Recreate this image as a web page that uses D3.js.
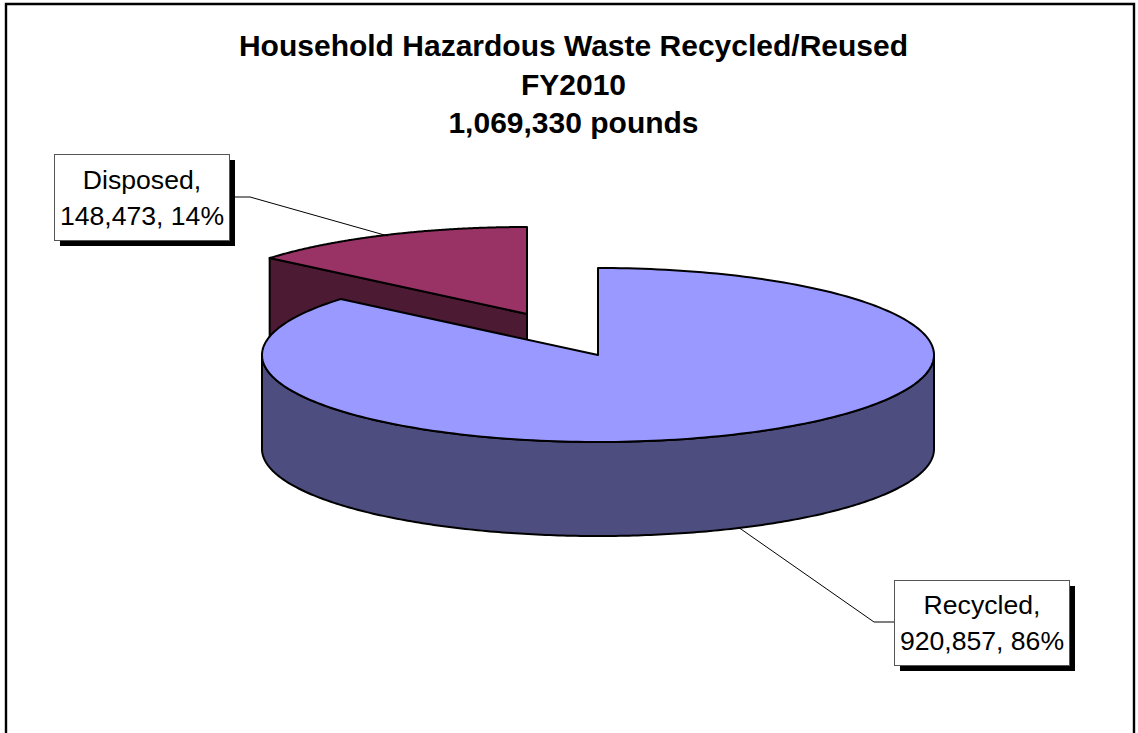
<!DOCTYPE html>
<html>
<head>
<meta charset="utf-8">
<style>html,body{margin:0;padding:0;background:#fff}svg{display:block}</style>
<script src="https://cdn.jsdelivr.net/npm/d3@7"></script>
</head>
<body>
<script>
const categories = ["Recycled", "Disposed"];
const values = [920857, 148473];
const percents = ["86%", "14%"];
const titleLines = ["Household Hazardous Waste Recycled/Reused", "FY2010", "1,069,330 pounds"];

const W = 1138, H = 733;
const topColors = ["#9999FF", "#993366"];
const sideColors = ["#4D4D80", "#4D1A33"];
const centers = [{x: 598, y: 355}, {x: 527, y: 314}];
const rx = 336, ry = 87, depth = 94;

const svg = d3.select("body").append("svg").attr("width", W).attr("height", H);
svg.append("rect").attr("width", W).attr("height", H).attr("fill", "#fff");
svg.append("path").attr("d", `M6,${H + 5}V4H1134V${H + 5}`)
  .attr("fill", "none").attr("stroke", "#000").attr("stroke-width", 2.4);

const font = "'Liberation Sans', Arial, sans-serif";
svg.append("g").selectAll("text").data(titleLines).join("text")
  .attr("x", 573.5).attr("y", (d, i) => 56 + i * 38.5)
  .attr("text-anchor", "middle").attr("font-family", font)
  .attr("font-weight", "bold").attr("font-size", 30).attr("fill", "#000")
  .text(d => d);

const arcs = d3.pie().sort(null).startAngle(0).endAngle(2 * Math.PI)(values);
const scalesFor = i => ({
  x: d3.scaleLinear().domain([-1, 1]).range([centers[i].x - rx, centers[i].x + rx]),
  y: d3.scaleLinear().domain([-1, 1]).range([centers[i].y + ry, centers[i].y - ry])
});
const rim = (i, a0, a1, dy = 0) => {
  const s = scalesFor(i), n = 240;
  return d3.range(n + 1).map(k => {
    const a = a0 + (a1 - a0) * k / n;
    return [s.x(Math.sin(a)), s.y(Math.cos(a)) + dy];
  });
};
const line = d3.line();
const pieStroke = g => g.attr("stroke", "#000").attr("stroke-width", 2).attr("stroke-linejoin", "round");

// Disposed slice: cut face first, then its top
{
  const a = arcs[1], c = centers[1], s = scalesFor(1);
  const p = [s.x(Math.sin(a.startAngle)), s.y(Math.cos(a.startAngle))];
  svg.append("path").attr("fill", sideColors[1]).call(pieStroke)
    .attr("d", line([p, [c.x, c.y], [c.x, c.y + depth], [p[0], p[1] + depth]]) + "Z");
  svg.append("path").attr("fill", topColors[1]).call(pieStroke)
    .attr("d", line([[c.x, c.y], ...rim(1, a.startAngle, a.endAngle)]) + "Z");
}
// Recycled slice: visible rim wall, then top
{
  const a = arcs[0], c = centers[0];
  const lo = Math.PI / 2, hi = 3 * Math.PI / 2;
  const wall = [...rim(0, lo, hi), ...rim(0, lo, hi, depth).reverse()];
  svg.append("path").attr("fill", sideColors[0]).call(pieStroke).attr("d", line(wall) + "Z");
  svg.append("path").attr("fill", topColors[0]).call(pieStroke)
    .attr("d", line([[c.x, c.y], ...rim(0, a.startAngle, a.endAngle)]) + "Z");
}

// Callouts
const fmt = d3.format(",");
const boxes = [
  {x: 894.5, y: 580.5, w: 175, h: 85, base: 614, leader: [[738, 527], [874, 622], [894, 622]]},
  {x: 54.5, y: 154.5, w: 175, h: 86, base: 189, leader: [[388, 236], [250, 197], [235, 197]]}
];
boxes.forEach((b, i) => {
  svg.append("path").attr("d", line(b.leader)).attr("fill", "none")
    .attr("stroke", "#000").attr("stroke-width", 1);
  svg.append("rect").attr("x", b.x + 5.5).attr("y", b.y + 5.5).attr("width", b.w).attr("height", b.h).attr("fill", "#000");
  svg.append("rect").attr("x", b.x).attr("y", b.y).attr("width", b.w).attr("height", b.h)
    .attr("fill", "#fff").attr("stroke", "#555").attr("stroke-width", 1);
  const lines = [categories[i] + ",", `${fmt(values[i])}, ${percents[i]}`];
  svg.append("g").selectAll("text").data(lines).join("text")
    .attr("x", b.x + b.w / 2).attr("y", (d, k) => b.base + k * 35.5)
    .attr("text-anchor", "middle").attr("font-family", font)
    .attr("font-size", 26.6).attr("fill", "#000").text(d => d);
});
</script>
</body>
</html>
